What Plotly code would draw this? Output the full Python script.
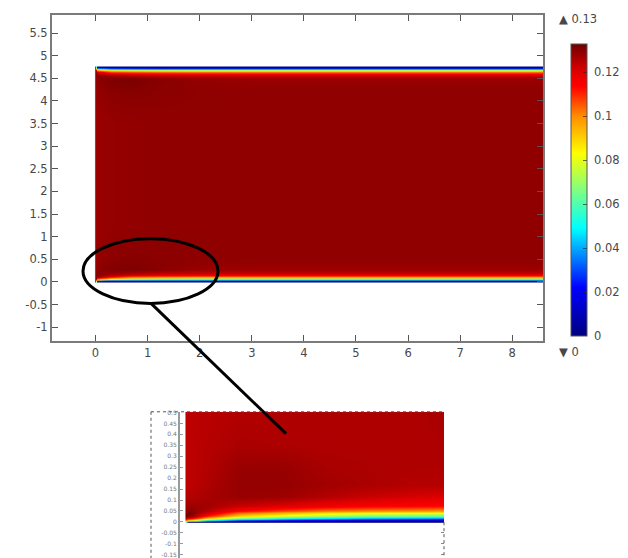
import plotly.graph_objects as go

W, H = 628, 558

# colour scale
scale_stops = [0, 0.166, 0.37, 0.5, 0.625, 0.75, 0.855, 0.904, 1]
scale_colors = ["#000080", "#0000ff", "#00ffff", "#80ff80", "#ffff00", "#ff9000", "#ff0000", "#e00000", "#700000"]
z_min, z_max = 0, 0.1327
bar_ticks = [0, 0.02, 0.04, 0.06, 0.08, 0.1, 0.12]
bar_labels = ["0", "0.02", "0.04", "0.06", "0.08", "0.1", "0.12"]

# main field
main_x = [0, 0.02, 0.3, 0.7, 1.2, 2, 3, 5, 8.6]
main_y = [0, 0.02, 0.035, 0.05, 0.065, 0.085, 0.11, 0.14, 0.18, 0.27, 0.5, 1.2, 2.4, 3.6, 4.25, 4.5, 4.57, 4.61, 4.64, 4.665, 4.685, 4.70, 4.715, 4.73, 4.75]
main_z = [
    [0.065, 0.000, 0.000, 0.000, 0.000, 0.000, 0.000, 0.000, 0.000],
    [0.085, 0.030, 0.018, 0.015, 0.012, 0.010, 0.010, 0.010, 0.010],
    [0.105, 0.065, 0.045, 0.038, 0.033, 0.030, 0.030, 0.030, 0.030],
    [0.118, 0.090, 0.062, 0.055, 0.052, 0.050, 0.050, 0.050, 0.050],
    [0.126, 0.108, 0.082, 0.072, 0.068, 0.065, 0.065, 0.065, 0.065],
    [0.129, 0.121, 0.100, 0.090, 0.086, 0.083, 0.083, 0.083, 0.083],
    [0.130, 0.127, 0.114, 0.105, 0.102, 0.100, 0.100, 0.100, 0.100],
    [0.130, 0.130, 0.124, 0.118, 0.115, 0.1135, 0.1135, 0.1135, 0.1135],
    [0.1295, 0.1300, 0.128, 0.126, 0.123, 0.122, 0.122, 0.122, 0.122],
    [0.1285, 0.1295, 0.1305, 0.1312, 0.1300, 0.128, 0.1275, 0.1275, 0.1275],
    [0.1275, 0.1285, 0.1295, 0.1300, 0.1297, 0.1292, 0.1290, 0.1290, 0.1290],
    [0.1275, 0.1280, 0.1285, 0.1288, 0.1290, 0.1291, 0.1291, 0.1291, 0.1291],
    [0.1275, 0.1280, 0.1285, 0.1288, 0.1290, 0.1291, 0.1291, 0.1291, 0.1291],
    [0.1275, 0.1280, 0.1285, 0.1288, 0.1290, 0.1291, 0.1291, 0.1291, 0.1291],
    [0.1280, 0.1287, 0.1298, 0.1302, 0.1296, 0.1292, 0.1290, 0.1290, 0.1290],
    [0.1290, 0.1295, 0.1312, 0.1315, 0.1300, 0.1285, 0.1280, 0.1280, 0.1280],
    [0.1290, 0.1290, 0.1280, 0.1260, 0.1245, 0.1235, 0.1230, 0.1230, 0.1230],
    [0.1285, 0.1260, 0.1190, 0.1170, 0.1155, 0.1140, 0.1135, 0.1135, 0.1135],
    [0.1270, 0.1200, 0.1050, 0.1030, 0.1010, 0.1000, 0.1000, 0.1000, 0.1000],
    [0.1240, 0.1050, 0.0900, 0.0870, 0.0850, 0.0830, 0.0830, 0.0830, 0.0830],
    [0.1150, 0.0900, 0.0720, 0.0690, 0.0670, 0.0650, 0.0650, 0.0650, 0.0650],
    [0.1000, 0.0720, 0.0560, 0.0530, 0.0510, 0.0500, 0.0500, 0.0500, 0.0500],
    [0.0850, 0.0500, 0.0350, 0.0320, 0.0300, 0.0300, 0.0300, 0.0300, 0.0300],
    [0.0700, 0.0220, 0.0150, 0.0130, 0.0100, 0.0100, 0.0100, 0.0100, 0.0100],
    [0.0500, 0.0000, 0.0000, 0.0000, 0.0000, 0.0000, 0.0000, 0.0000, 0.0000],
]
main_xticks = [0, 1, 2, 3, 4, 5, 6, 7, 8]
main_yticks = [-1, -0.5, 0, 0.5, 1, 1.5, 2, 2.5, 3, 3.5, 4, 4.5, 5, 5.5]
main_ylabels = ["-1", "-0.5", "0", "0.5", "1", "1.5", "2", "2.5", "3", "3.5", "4", "4.5", "5", "5.5"]

# zoomed inset field
inset_x = [0, 0.01, 0.05, 0.2, 0.5, 0.9, 1.3, 1.7, 2.1, 2.4]
inset_y = [0, 0.005, 0.01, 0.015, 0.02, 0.03, 0.04, 0.052, 0.075, 0.115, 0.17, 0.25, 0.35, 0.5]
inset_z = [
    [0.065, 0.000, 0.000, 0.000, 0.000, 0.000, 0.000, 0.000, 0.000, 0.000],
    [0.090, 0.070, 0.060, 0.035, 0.012, 0.008, 0.006, 0.005, 0.005, 0.005],
    [0.105, 0.095, 0.090, 0.060, 0.035, 0.026, 0.020, 0.016, 0.015, 0.014],
    [0.117, 0.110, 0.108, 0.080, 0.055, 0.044, 0.036, 0.030, 0.028, 0.027],
    [0.126, 0.122, 0.120, 0.095, 0.070, 0.058, 0.050, 0.045, 0.043, 0.042],
    [0.131, 0.130, 0.129, 0.112, 0.090, 0.080, 0.072, 0.066, 0.064, 0.063],
    [0.1315, 0.1315, 0.131, 0.121, 0.103, 0.094, 0.087, 0.083, 0.082, 0.081],
    [0.129, 0.1295, 0.1295, 0.125, 0.114, 0.107, 0.102, 0.100, 0.099, 0.098],
    [0.127, 0.1272, 0.1275, 0.127, 0.123, 0.120, 0.117, 0.115, 0.114, 0.113],
    [0.1245, 0.1248, 0.125, 0.1265, 0.128, 0.1275, 0.125, 0.1225, 0.121, 0.120],
    [0.1235, 0.1238, 0.124, 0.1255, 0.1285, 0.1285, 0.127, 0.126, 0.125, 0.1248],
    [0.1235, 0.1238, 0.124, 0.125, 0.128, 0.128, 0.1262, 0.1258, 0.1256, 0.1255],
    [0.1235, 0.1238, 0.124, 0.1248, 0.126, 0.1258, 0.1256, 0.1255, 0.1255, 0.1258],
    [0.1235, 0.1238, 0.124, 0.1245, 0.1252, 0.1254, 0.1255, 0.1255, 0.1255, 0.1262],
]
inset_yticks = [-0.15, -0.1, -0.05, 0, 0.05, 0.1, 0.15, 0.2, 0.25, 0.3, 0.35, 0.4, 0.45, 0.5]
inset_ylabels = ["-0.15", "-0.1", "-0.05", "0", "0.05", "0.1", "0.15", "0.2", "0.25", "0.3", "0.35", "0.4", "0.45", "0.5"]
inset_right_ticks = [-0.15, -0.1, -0.05]

colorscale = list(zip(scale_stops, scale_colors))
px = lambda v: v / W
py = lambda v: 1 - v / H
FONT = "DejaVu Sans"
TXT = "#484848"

fig = go.Figure()
fig.add_trace(go.Heatmap(
    x=main_x, y=main_y, z=main_z, zmin=z_min, zmax=z_max, zsmooth="best",
    colorscale=colorscale, hoverinfo="skip",
    colorbar=dict(
        x=px(571), xanchor="left", xpad=0, y=py(335), yanchor="bottom", ypad=0,
        len=292, lenmode="pixels", thickness=16, thicknessmode="pixels",
        tickmode="array", tickvals=bar_ticks, ticktext=["\u00a0" + t for t in bar_labels],
        ticks="inside", ticklen=4, tickcolor="rgba(40,40,40,0.7)", tickwidth=1,
        outlinecolor="#555555", outlinewidth=1, borderwidth=0,
        tickfont=dict(family=FONT, size=11.5, color=TXT),
    ),
))
fig.add_trace(go.Heatmap(
    x=inset_x, y=inset_y, z=inset_z, zmin=z_min, zmax=z_max, zsmooth="best",
    colorscale=colorscale, showscale=False, hoverinfo="skip", xaxis="x2", yaxis="y2",
))
fig.add_trace(go.Scatter(x=[], y=[], xaxis="x2", yaxis="y3", showlegend=False))

axis_common = dict(showgrid=False, zeroline=False, showline=True, linecolor="#7a7a7a", linewidth=2,
                   mirror="allticks", ticks="inside", ticklen=6, tickcolor="#555555", tickwidth=1,
                   tickfont=dict(family=FONT, size=11.5, color=TXT))

inset_y0 = (521.7 - 558) / 220
inset_y1 = (521.7 - 411) / 220
fig.update_layout(
    width=W, height=H, margin=dict(l=0, r=0, t=0, b=0), autosize=False,
    paper_bgcolor="white", plot_bgcolor="white", showlegend=False,
    xaxis=dict(domain=[px(52), px(543)], range=[-0.835, 8.59], tickvals=main_xticks, anchor="y", **axis_common),
    yaxis=dict(domain=[py(340), py(12)], range=[-1.31, 5.9], tickvals=main_yticks, ticktext=main_ylabels, anchor="x", **axis_common),
    xaxis2=dict(domain=[px(180), px(444)], range=[-0.0558, 2.4], anchor="y2", showgrid=False, zeroline=False,
                showticklabels=False, ticks="", showline=False),
    yaxis2=dict(domain=[0, py(411)], range=[inset_y0, inset_y1], anchor="x2", showgrid=False, zeroline=False,
                tickvals=inset_yticks, ticktext=inset_ylabels, ticks="inside", ticklen=3, tickcolor="#999999",
                showline=True, linecolor="#9a9a9a", linewidth=2,
                tickfont=dict(family=FONT, size=6, color="#777777")),
    yaxis3=dict(overlaying="y2", side="right", anchor="x2", range=[inset_y0, inset_y1], showgrid=False, zeroline=False,
                tickvals=inset_right_ticks, showticklabels=False, ticks="inside", ticklen=3, tickcolor="#888888", showline=False),
    annotations=[
        dict(text="▲ 0.13", x=px(557), y=py(16), xref="paper", yref="paper", xanchor="left", yanchor="middle",
             showarrow=False, font=dict(family=FONT, size=11.5, color=TXT)),
        dict(text="▼ 0", x=px(557), y=py(351), xref="paper", yref="paper", xanchor="left", yanchor="middle",
             showarrow=False, font=dict(family=FONT, size=11.5, color=TXT)),
    ],
    shapes=[
        dict(type="line", xref="paper", yref="paper", x0=px(95.5), x1=px(95.5), y0=py(281), y1=py(64),
             line=dict(color="#5a5a5a", width=1)),
        dict(type="circle", xref="paper", yref="paper", x0=px(83), x1=px(218), y0=py(302), y1=py(237),
             line=dict(color="black", width=3)),
        dict(type="line", xref="paper", yref="paper", x0=px(151), y0=py(302), x1=px(286), y1=py(433),
             line=dict(color="black", width=3)),
        dict(type="line", xref="paper", yref="paper", x0=px(151), y0=py(411), x1=px(151), y1=0,
             line=dict(color="#555555", width=1, dash="dot")),
        dict(type="line", xref="paper", yref="paper", x0=px(151), y0=py(411), x1=px(444), y1=py(411),
             line=dict(color="#555555", width=1, dash="dot")),
        dict(type="line", xref="paper", yref="paper", x0=px(444), y0=py(522), x1=px(444), y1=0,
             line=dict(color="#555555", width=1, dash="dot")),
    ],
)
fig.write_html("out.html", config={"displayModeBar": False},
               post_script="document.body.style.margin='0';document.documentElement.style.overflow='hidden';")
